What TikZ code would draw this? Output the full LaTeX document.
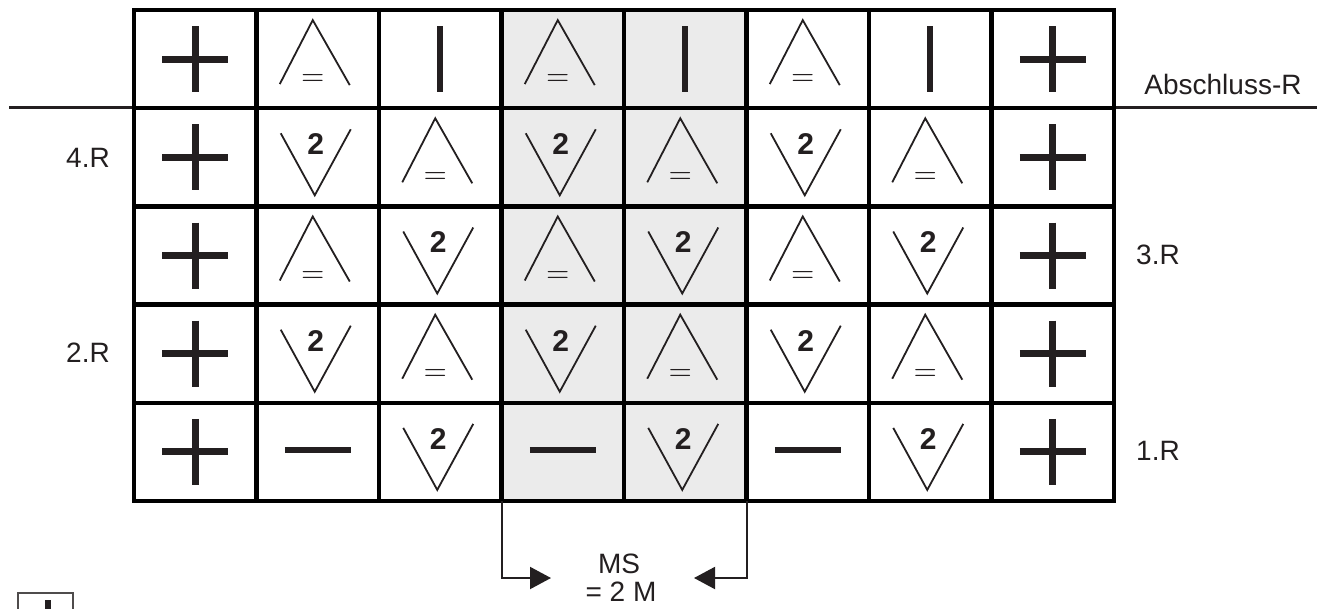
\documentclass[tikz,border=0pt]{standalone}
\usepackage{fontspec}
\setmainfont{Liberation Sans}
\usetikzlibrary{arrows.meta}
\definecolor{ink}{HTML}{231F20}
\definecolor{cellgray}{HTML}{EBEBEB}
\tikzset{
 plussym/.pic={\draw[ink,line width=7pt] (-33,0)--(33,0) (0,-33)--(0,33);},
 barsym/.pic={\draw[ink,line width=6pt] (0,-33)--(0,33);},
 dashsym/.pic={\draw[ink,line width=6.5pt] (-33,-2)--(33,-2);},
 upsym/.pic={\draw[ink,line width=1.8pt] (-38,25)--(-5,-39)--(32,26);
   \node[text=ink,inner sep=0pt] at (-5,21) {\scalebox{3}{$=$}};},
 downsym/.pic={\draw[ink,line width=1.8pt] (-37,-24)--(-3,38)--(33,-28);
   \node[text=ink,font=\bfseries\fontsize{30}{30}\selectfont,inner sep=0pt] at (-2,-13) {2};},
 lab/.style={font=\fontsize{28}{28}\selectfont, text=ink, inner sep=0pt},
 gridline/.style={black,line width=4.5pt},
 msarrow/.style={ink,line width=2pt,-{Triangle[length=21pt,width=22pt]}},
}
\begin{document}
\begin{tikzpicture}[x=1pt,y=-1pt]
\clip (0,0) rectangle (1317,608);
\fill[white] (0,0) rectangle (1317,608);
% shaded columns
\fill[cellgray] (501.5,10) rectangle (746.5,501);
% long horizontal line
\draw[ink,line width=3pt] (9,107) -- (1317,107);
% grid
\foreach \i in {1,...,7} \draw[gridline] ({134+122.5*\i},10) -- ({134+122.5*\i},501);
\foreach \j in {1,...,4} \draw[gridline] (134,{10+98.2*\j}) -- (1114,{10+98.2*\j});
\draw[gridline] (134,10) rectangle (1114,501);
% symbols
\foreach \c/\s in {1/plussym,2/upsym,3/barsym,4/upsym,5/barsym,6/upsym,7/barsym,8/plussym}
  \pic at ({134+122.5*(\c-0.5)},{10+98.2*0.5}) {\s};
\foreach \c/\s in {1/plussym,2/downsym,3/upsym,4/downsym,5/upsym,6/downsym,7/upsym,8/plussym}
  \pic at ({134+122.5*(\c-0.5)},{10+98.2*1.5}) {\s};
\foreach \c/\s in {1/plussym,2/upsym,3/downsym,4/upsym,5/downsym,6/upsym,7/downsym,8/plussym}
  \pic at ({134+122.5*(\c-0.5)},{10+98.2*2.5}) {\s};
\foreach \c/\s in {1/plussym,2/downsym,3/upsym,4/downsym,5/upsym,6/downsym,7/upsym,8/plussym}
  \pic at ({134+122.5*(\c-0.5)},{10+98.2*3.5}) {\s};
\foreach \c/\s in {1/plussym,2/dashsym,3/downsym,4/dashsym,5/downsym,6/dashsym,7/downsym,8/plussym}
  \pic at ({134+122.5*(\c-0.5)},{10+98.2*4.5}) {\s};
% labels
\node[lab] (abs) at (1223,84) {Abschluss-R};
\node[lab] (r4) at (88,158) {4.R};
\node[lab] (r3) at (1158,255) {3.R};
\node[lab] (r2) at (88,353) {2.R};
\node[lab] (r1) at (1158,451) {1.R};
\node[lab] (ms) at (619,564) {MS};
\node[lab] (eq) at (621,592) {= 2 M};
% bracket arrows
\coordinate (lb) at (501.5,501);
\coordinate (lt) at (551,578);
\coordinate (rb) at (746.5,501);
\coordinate (rt) at (694,578);
\draw[msarrow] (lb) |- (lt);
\draw[msarrow] (rb) |- (rt);
% partial legend box
\draw[ink!80,line width=2pt] (18,625) -- (18,593) -- (73,593) -- (73,625);
\fill[ink] (45,600) rectangle (51,615);
\end{tikzpicture}
\end{document}
